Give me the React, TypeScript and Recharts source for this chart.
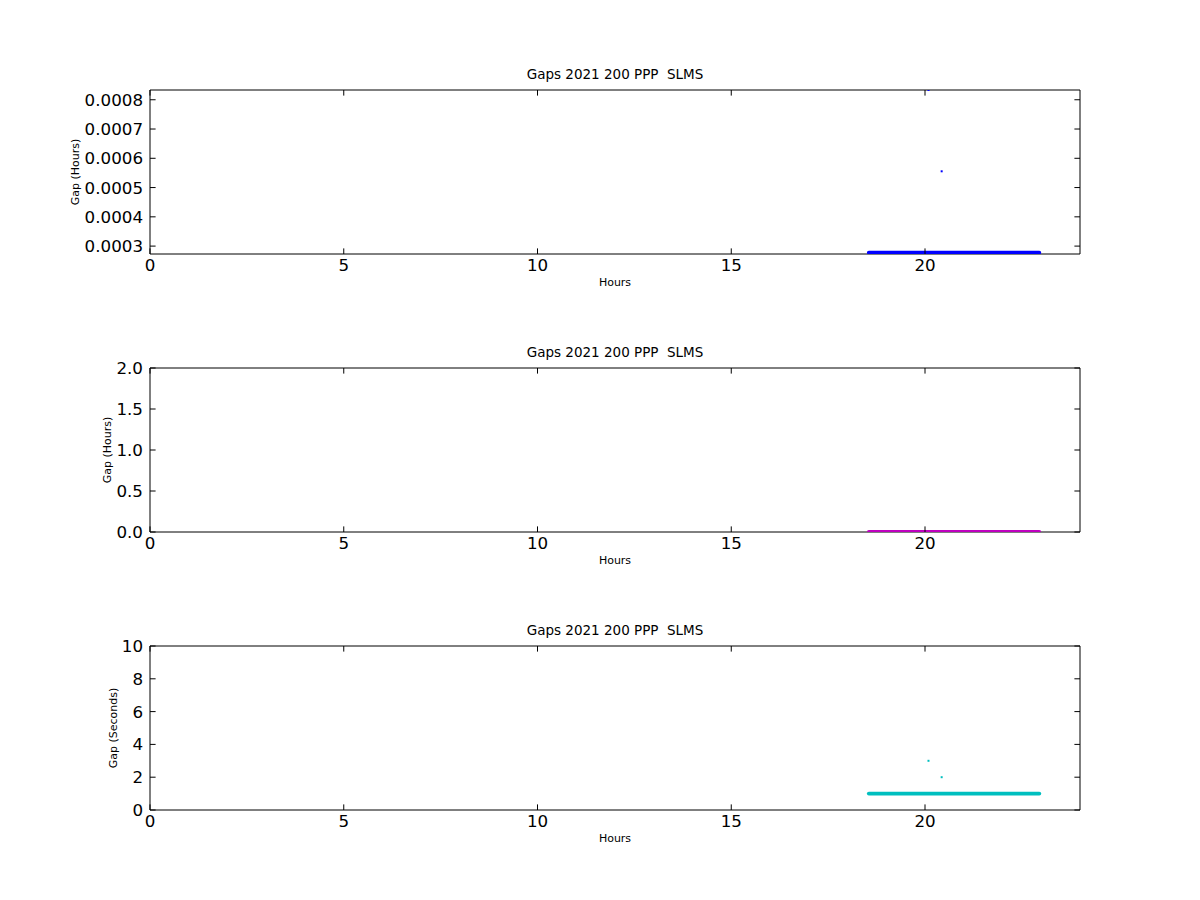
import React from "react";
import { ComposedChart, Line, Scatter, XAxis, YAxis, ReferenceArea } from "recharts";

// 読み取り値: 1秒ごとのギャップが 18.55h〜22.95h に連続(帯として描く)、外れ値が2点
const bandHours = [18.55, 22.95];
const bandGapSeconds = [1, 1];
const outlierHours = [20.09, 20.43];
const outlierGapSeconds = [3, 2];

const X_TICKS = [0, 5, 10, 15, 20];
const TOP_Y_TICKS = [0.0003, 0.0004, 0.0005, 0.0006, 0.0007, 0.0008];
const MID_Y_TICKS = [0, 0.5, 1, 1.5, 2];
const BOT_Y_TICKS = [0, 2, 4, 6, 8, 10];

const TITLE = "Gaps 2021 200 PPP  SLMS";
const SEC_PER_HOUR = 3600;

const FONT = "DejaVu Sans, sans-serif";
const TICK_LEN = 5.6;
const TICK_FONT = 16.7;
// 描画領域(各パネル内の座標)
const PLOT_LEFT = 150;
const PLOT_TOP = 90;
const PLOT_W = 930;
const PLOT_H = 164;

const toHours = (s: number[]) => s.map((v) => v / SEC_PER_HOUR);
const pts = (xs: number[], ys: number[]) => xs.map((x, i) => ({ x, y: ys[i] }));

// 下軸の目盛り(内向き)+上辺の目盛り
function bottomTick(p: any) {
  const { x, y, payload } = p;
  const yTop = y - PLOT_H;
  return (
    <g>
      <line x1={x} x2={x} y1={y} y2={y - TICK_LEN} stroke="#000" />
      <line x1={x} x2={x} y1={yTop} y2={yTop + TICK_LEN} stroke="#000" />
      <text x={x} y={y + 17} textAnchor="middle" fontSize={TICK_FONT} fontFamily={FONT} fill="#000">
        {payload.value}
      </text>
    </g>
  );
}
// 左軸の目盛り(内向き)+右辺の目盛り
function leftTick(fmt: (v: number) => string) {
  return (p: any) => {
    const { x, y, payload } = p;
    const xr = x + PLOT_W;
    return (
      <g>
        <line x1={x} x2={x + TICK_LEN} y1={y} y2={y} stroke="#000" />
        <line x1={xr} x2={xr - TICK_LEN} y1={y} y2={y} stroke="#000" />
        <text x={x - 7} y={y + 6} textAnchor="end" fontSize={TICK_FONT} fontFamily={FONT} fill="#000">
          {fmt(payload.value)}
        </text>
      </g>
    );
  };
}

function Dot(color: string) {
  return (p: any) => <rect x={p.cx - 1} y={p.cy - 1} width={2} height={2} fill={color} />;
}

function Panel({
  top,
  yLabel,
  yLabelOffset,
  yDomain,
  yTicks,
  fmt,
  band,
  outliers,
  color,
}: {
  top: number;
  yLabel: string;
  yLabelOffset: number;
  yDomain: [number, number];
  yTicks: number[];
  fmt: (v: number) => string;
  band: { x: number; y: number }[];
  outliers: { x: number; y: number }[];
  color: string;
}) {
  return (
    <div style={{ position: "absolute", left: 0, top, width: 1200, height: 320 }}>
      <ComposedChart width={1200} height={320} margin={{ top: PLOT_TOP, right: 120, bottom: 26, left: 50 }}>
        <XAxis
          type="number"
          dataKey="x"
          domain={[0, 24]}
          ticks={X_TICKS}
          height={40}
          tickSize={0}
          tickMargin={0}
          tickLine={false}
          axisLine={false}
          tick={bottomTick}
          allowDataOverflow
          interval={0}
          label={{
            content: () => (
              <g>
                <text x={PLOT_LEFT + PLOT_W / 2} y={286} textAnchor="middle" fontSize={11} fontFamily={FONT} fill="#000">
                  Hours
                </text>
                <text
                  x={PLOT_LEFT + PLOT_W / 2}
                  y={79}
                  textAnchor="middle"
                  fontSize={13.5}
                  fontFamily={FONT}
                  fill="#000"
                  style={{ whiteSpace: "pre" }}
                >
                  {TITLE}
                </text>
              </g>
            ),
          }}
        />
        <YAxis
          type="number"
          domain={yDomain}
          ticks={yTicks}
          width={100}
          tickSize={0}
          tickMargin={0}
          tickLine={false}
          axisLine={false}
          tick={leftTick(fmt)}
          allowDataOverflow
          interval={0}
          label={{
            content: () => {
              const cx = PLOT_LEFT - yLabelOffset;
              const cy = PLOT_TOP + PLOT_H / 2;
              return (
                <text
                  x={cx}
                  y={cy}
                  transform={`rotate(-90, ${cx}, ${cy})`}
                  textAnchor="middle"
                  dominantBaseline="central"
                  fontSize={11}
                  fontFamily={FONT}
                  fill="#000"
                >
                  {yLabel}
                </text>
              );
            },
          }}
        />
        <Line
          data={band}
          dataKey="y"
          type="linear"
          stroke={color}
          strokeWidth={3.8}
          strokeLinecap="round"
          dot={false}
          activeDot={false}
          isAnimationActive={false}
        />
        <Scatter data={outliers} dataKey="y" fill={color} shape={Dot(color)} isAnimationActive={false} />
        <ReferenceArea
          x1={0}
          x2={24}
          y1={yDomain[0]}
          y2={yDomain[1]}
          fill="none"
          fillOpacity={0}
          stroke="#000"
          strokeWidth={1}
          ifOverflow="visible"
        />
      </ComposedChart>
    </div>
  );
}

export default function App() {
  const bandH = pts(bandHours, toHours(bandGapSeconds));
  const outH = pts(outlierHours, toHours(outlierGapSeconds));
  const bandS = pts(bandHours, bandGapSeconds);
  const outS = pts(outlierHours, outlierGapSeconds);
  return (
    <div style={{ position: "absolute", left: 0, top: 0, width: 1200, height: 900, background: "#fff" }}>
      <Panel
        top={0}
        yLabel="Gap (Hours)"
        yLabelOffset={75}
        yDomain={[0.000273, 3 / SEC_PER_HOUR]}
        yTicks={TOP_Y_TICKS}
        fmt={(v) => v.toFixed(4)}
        band={bandH}
        outliers={outH}
        color="#0000ff"
      />
      <Panel
        top={278}
        yLabel="Gap (Hours)"
        yLabelOffset={43}
        yDomain={[0, 2]}
        yTicks={MID_Y_TICKS}
        fmt={(v) => v.toFixed(1)}
        band={bandH}
        outliers={outH}
        color="#bf00bf"
      />
      <Panel
        top={556}
        yLabel="Gap (Seconds)"
        yLabelOffset={37}
        yDomain={[0, 10]}
        yTicks={BOT_Y_TICKS}
        fmt={(v) => String(v)}
        band={bandS}
        outliers={outS}
        color="#00bfbf"
      />
    </div>
  );
}
